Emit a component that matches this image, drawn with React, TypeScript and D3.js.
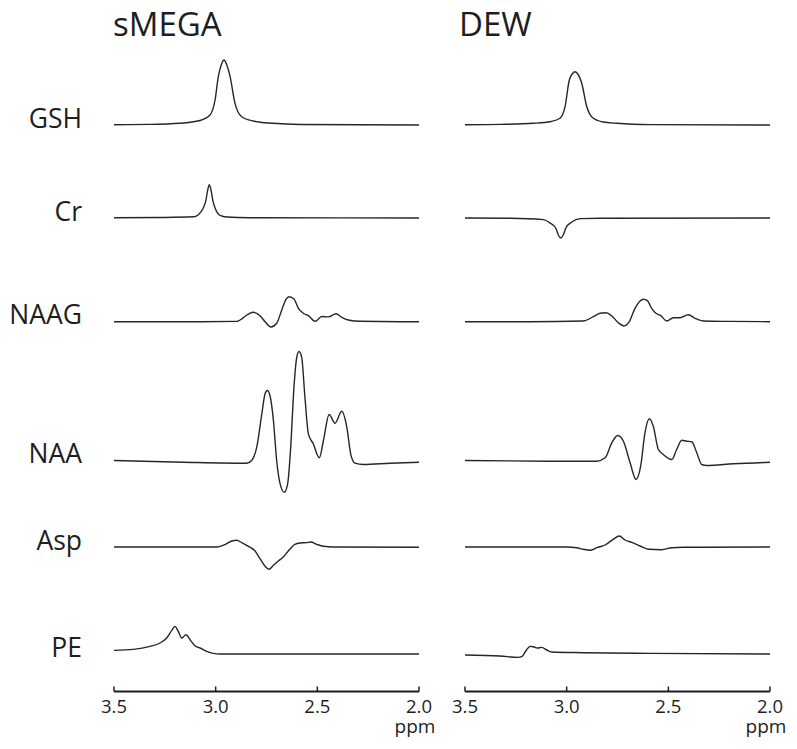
import React from 'react';
import * as d3 from 'd3';

// ---------- data ----------
const metabolites = ['GSH', 'Cr', 'NAAG', 'NAA', 'Asp', 'PE'];
const methods = ['sMEGA', 'DEW'];
const ppmTicks = [3.5, 3.0, 2.5, 2.0];
const ppmTickLabels = ['3.5', '3.0', '2.5', '2.0'];
const axisUnit = 'ppm';

type Pt = [number, number]; // [ppm, intensity (a.u.)]

const gshSMEGA: Pt[] = [
  [3.5, 0.3], [3.323, 0.6], [3.175, 1.7], [3.077, 4.5], [3.028, 10], [3.003, 25],
  [2.987, 48.3], [2.971, 61], [2.959, 65], [2.947, 61], [2.929, 48.3], [2.905, 21.7],
  [2.872, 8.3], [2.816, 4], [2.718, 1.7], [2.585, 0.5], [2.0, 0],
];
const gshDEW: Pt[] = [
  [3.5, 0.2], [3.323, 0.6], [3.164, 1.7], [3.077, 3.5], [3.033, 6.7], [3.008, 18.3],
  [2.987, 45], [2.971, 51.5], [2.959, 53.3], [2.947, 51.5], [2.926, 41.7], [2.901, 18.3],
  [2.869, 6.7], [2.821, 3], [2.754, 1.7], [2.585, 0.4], [2.0, 0],
];
const crSMEGA: Pt[] = [
  [3.5, 0.2], [3.277, 0.5], [3.11, 1.2], [3.085, 3.3], [3.061, 10], [3.049, 16.7],
  [3.038, 29], [3.031, 33.3], [3.024, 29], [3.013, 16.7], [3.001, 9], [2.978, 2.6],
  [2.945, 1], [2.834, 0.3], [2.0, 0],
];
const crDEW: Pt[] = [
  [3.5, 0], [3.275, -0.2], [3.115, -1.6], [3.082, -5], [3.054, -10], [3.041, -17],
  [3.029, -20], [3.017, -17], [3.004, -10], [2.975, -4], [2.934, -0.6], [2.832, -0.2],
  [2.0, 0],
];
const naagSMEGA: Pt[] = [
  [3.5, 0], [3.077, 0], [2.896, 0.3], [2.88, 1.7], [2.847, 6.7], [2.815, 9.4],
  [2.782, 6], [2.757, 0], [2.728, -5.3], [2.7, -1.6], [2.675, 11.7], [2.654, 22.4],
  [2.638, 25], [2.615, 22.7], [2.593, 13.4], [2.569, 8.4], [2.544, 6], [2.511, 0.4],
  [2.478, 5.2], [2.446, 4.8], [2.408, 8], [2.38, 4.4], [2.348, 1.7], [2.29, 0.4],
  [2.093, 0], [2.0, 0],
];
const naagDEW: Pt[] = [
  [3.5, 0], [3.18, 0], [2.918, 0.7], [2.869, 5], [2.836, 8.4], [2.806, 9],
  [2.778, 5.7], [2.746, -1], [2.718, -4.3], [2.692, 0], [2.664, 13.4], [2.639, 20.7],
  [2.623, 22.4], [2.603, 21], [2.582, 13.4], [2.561, 8.4], [2.537, 6], [2.508, 0.7],
  [2.475, 4], [2.442, 4], [2.402, 7], [2.369, 3.4], [2.328, 0.7], [2.197, 0.3],
  [2.0, 0],
];
const naaSMEGA: Pt[] = [
  [3.5, 0], [3.159, -1.7], [2.847, -2.7], [2.823, 0], [2.798, 13.3], [2.773, 46.7],
  [2.757, 66.7], [2.746, 70], [2.733, 65], [2.716, 40], [2.7, 0], [2.683, -23.3],
  [2.662, -31.7], [2.646, -23.3], [2.631, 13.3], [2.615, 73.3], [2.601, 103.3],
  [2.59, 109], [2.577, 103.3], [2.561, 63.3], [2.544, 26.7], [2.52, 16.7], [2.49, 2.7],
  [2.47, 20], [2.442, 46], [2.413, 37.3], [2.38, 49.3], [2.355, 33.3], [2.336, 6.7],
  [2.315, -2.7], [2.274, -4], [2.142, -2.7], [2.0, -1.7],
];
const naaDEW: Pt[] = [
  [3.5, 0], [3.082, -0.7], [2.852, -0.7], [2.811, 2.7], [2.778, 17.7], [2.749, 25],
  [2.721, 19.3], [2.688, -2.3], [2.659, -19], [2.636, -5.7], [2.615, 27.7],
  [2.593, 41.7], [2.574, 34.3], [2.549, 11], [2.525, 6], [2.483, 1], [2.459, 11],
  [2.434, 20.3], [2.41, 19.3], [2.385, 18.7], [2.36, 7.7], [2.336, -4], [2.311, -5],
  [2.18, -3.3], [2.0, -1.7],
];
const aspSMEGA: Pt[] = [
  [3.5, 0], [2.995, 0], [2.954, 2.4], [2.921, 6], [2.896, 6.7], [2.872, 4.4],
  [2.839, 0.7], [2.806, -4], [2.782, -11.6], [2.757, -19.3], [2.738, -22.3],
  [2.716, -18.3], [2.692, -14], [2.67, -10.6], [2.643, -4], [2.61, 2.7], [2.585, 4],
  [2.552, 4.4], [2.532, 5], [2.503, 2.7], [2.47, 0.7], [2.421, 0], [2.0, -0.3],
];
const aspDEW: Pt[] = [
  [3.5, 0], [3.0, 0], [2.951, -0.7], [2.918, -2.3], [2.885, -3.3], [2.852, -0.7],
  [2.811, 2], [2.771, 7.7], [2.741, 11], [2.713, 7], [2.68, 4.7], [2.639, 1],
  [2.598, -2.3], [2.532, -2.7], [2.483, -0.7], [2.426, -0.3], [2.0, 0],
];
const peSMEGA: Pt[] = [
  [3.5, 3.6], [3.405, 4.6], [3.323, 7.6], [3.274, 11], [3.241, 16], [3.216, 23.6],
  [3.2, 27.6], [3.184, 22.6], [3.167, 16], [3.146, 19.3], [3.126, 14.3], [3.102, 8.3],
  [3.077, 6], [3.044, 2.6], [3.012, 0.6], [2.979, 0], [2.0, 0],
];
const peDEW: Pt[] = [
  [3.5, -1], [3.328, -2], [3.238, -3.4], [3.221, -2.7], [3.2, 3.3], [3.18, 7.6],
  [3.164, 7.3], [3.144, 6], [3.123, 6.6], [3.098, 4], [3.074, 2], [2.918, 1.3],
  [2.59, 0.6], [2.0, 0],
];

const spectra: Pt[][][] = [
  [gshSMEGA, gshDEW],
  [crSMEGA, crDEW],
  [naagSMEGA, naagDEW],
  [naaSMEGA, naaDEW],
  [aspSMEGA, aspDEW],
  [peSMEGA, peDEW],
];

// ---------- layout ----------
const W = 797;
const H = 749;
const ROW_BASELINE = [125, 218, 321.7, 460.5, 547, 654];
const PANEL_X0 = [114, 465];
const PANEL_W = 305;
const TITLE_X = [113, 459];
const AXIS_Y = 691.5;
const FONT = '"Open Sans", "Liberation Sans", sans-serif';
const INK = '#1e1e1e';

export default function App() {
  const amp = d3.scaleLinear().domain([0, 100]).range([0, -100]);

  return (
    <svg
      width={W}
      height={H}
      viewBox={`0 0 ${W} ${H}`}
      style={{ position: 'absolute', left: 0, top: 0, background: '#fff' }}
    >
      <rect x={0} y={0} width={W} height={H} fill="#fff" />
      {methods.map((m, pi) => {
        const x = d3
          .scaleLinear()
          .domain([3.5, 2.0])
          .range([PANEL_X0[pi], PANEL_X0[pi] + PANEL_W]);
        return (
          <g key={m}>
            <text
              x={TITLE_X[pi]}
              y={36}
              fontFamily={FONT}
              fontSize={33}
              fill={INK}
            >
              {m}
            </text>
            {metabolites.map((met, ri) => {
              const y0 = ROW_BASELINE[ri];
              const line = d3
                .line<Pt>()
                .x((d) => x(d[0]))
                .y((d) => y0 + amp(d[1]))
                .curve(d3.curveMonotoneX);
              const data = [...spectra[ri][pi]].sort((a, b) => b[0] - a[0]);
              return (
                <path
                  key={met}
                  d={line(data) || ''}
                  fill="none"
                  stroke="#262626"
                  strokeWidth={1.4}
                  strokeLinejoin="round"
                />
              );
            })}
            {/* axis */}
            <line
              x1={x(3.5)}
              x2={x(2.0)}
              y1={AXIS_Y}
              y2={AXIS_Y}
              stroke={INK}
              strokeWidth={1.8}
            />
            {ppmTicks.map((t, ti) => (
              <g key={t}>
                <line
                  x1={x(t)}
                  x2={x(t)}
                  y1={AXIS_Y - 5}
                  y2={AXIS_Y}
                  stroke={INK}
                  strokeWidth={1.5}
                />
                <text
                  x={x(t)}
                  y={712.5}
                  textAnchor="middle"
                  fontFamily={FONT}
                  fontSize={18.5}
                  fill={INK}
                >
                  {ppmTickLabels[ti]}
                </text>
              </g>
            ))}
            <text
              x={x(2.0) - 4}
              y={732.5}
              textAnchor="middle"
              fontFamily={FONT}
              fontSize={19}
              fill={INK}
            >
              {axisUnit}
            </text>
          </g>
        );
      })}
      {metabolites.map((met, ri) => (
        <text
          key={met}
          x={82}
          y={ROW_BASELINE[ri] + 2.5}
          textAnchor="end"
          fontFamily={FONT}
          fontSize={26.5}
          fill={INK}
        >
          {met}
        </text>
      ))}
    </svg>
  );
}
